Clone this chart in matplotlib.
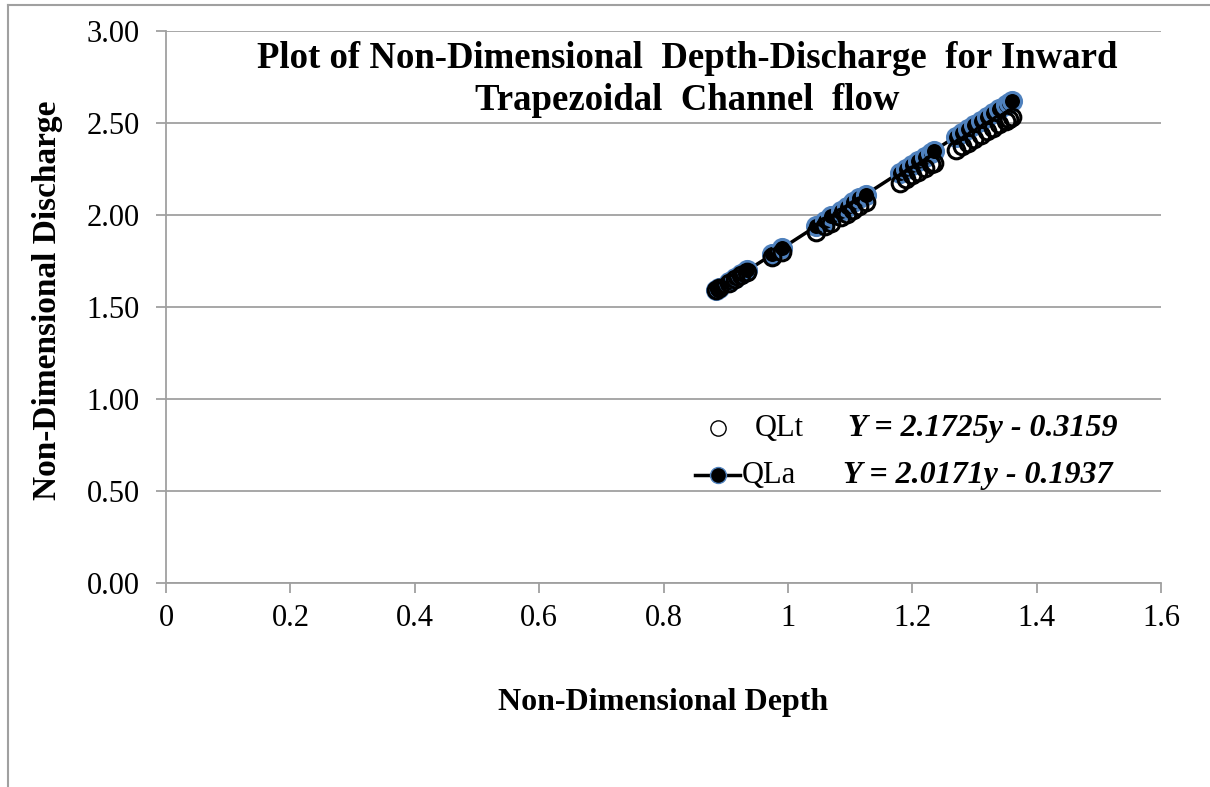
import matplotlib
matplotlib.use('Agg')
import matplotlib.pyplot as plt
from matplotlib.lines import Line2D

plt.rcParams['font.family'] = ['Liberation Serif', 'DejaVu Serif']

# non-dimensional depth
depth = [0.885, 0.89, 0.905, 0.915, 0.925, 0.935,
         0.975, 0.99,
         1.045, 1.06, 1.07, 1.085, 1.095, 1.105, 1.115, 1.125,
         1.18, 1.19, 1.20, 1.21, 1.22, 1.23, 1.235,
         1.27, 1.28, 1.29, 1.30, 1.31, 1.32, 1.33, 1.34, 1.35, 1.355, 1.36]

# QLt : open circles
qlt = [1.592, 1.602, 1.632, 1.652, 1.672, 1.691,
       1.771, 1.800,
       1.909, 1.939, 1.959, 1.988, 2.008, 2.028, 2.048, 2.068,
       2.176, 2.196, 2.216, 2.236, 2.256, 2.275, 2.285,
       2.355, 2.374, 2.394, 2.414, 2.434, 2.454, 2.473, 2.493, 2.513, 2.523, 2.533]

# QLa : filled circles with line
qla = [1.590, 1.601, 1.634, 1.656, 1.677, 1.699,
       1.786, 1.818,
       1.938, 1.970, 1.992, 2.024, 2.046, 2.068, 2.090, 2.111,
       2.231, 2.252, 2.274, 2.296, 2.317, 2.339, 2.350,
       2.426, 2.448, 2.469, 2.491, 2.513, 2.534, 2.556, 2.578, 2.600, 2.610, 2.621]

eq_qlt = 'Y = 2.1725y - 0.3159'
eq_qla = 'Y = 2.0171y - 0.1937'

xticks = [0, 0.2, 0.4, 0.6, 0.8, 1, 1.2, 1.4, 1.6]
xticklabels = ['0', '0.2', '0.4', '0.6', '0.8', '1', '1.2', '1.4', '1.6']
yticks = [0.0, 0.5, 1.0, 1.5, 2.0, 2.5, 3.0]

grey = '#a0a0a0'
blue = '#4f81bd'

fig = plt.figure(figsize=(12.1, 7.87), dpi=100)
ax = fig.add_axes([0.1372, 0.2592, 0.8223, 0.7014])

# outer chart frame (only left and top visible)
fig.add_artist(Line2D([0.0066, 0.0066], [0, 0.9936], color=grey, lw=1.5, transform=fig.transFigure))
fig.add_artist(Line2D([0.0066, 1.0], [0.9936, 0.9936], color=grey, lw=1.5, transform=fig.transFigure))

ax.plot(depth, qla, color='black', lw=2.5, marker='o', markersize=13,
        markerfacecolor='black', markeredgecolor=blue, markeredgewidth=2.2, zorder=3)
ax.plot(depth, qlt, linestyle='none', marker='o', markersize=12,
        markerfacecolor='none', markeredgecolor='black', markeredgewidth=2.2, zorder=4)

ax.set_xlim(0, 1.6)
ax.set_ylim(0, 3.0)
ax.set_xticks(xticks)
ax.set_xticklabels(xticklabels)
ax.set_yticks(yticks)
ax.set_yticklabels([f'{v:.2f}' for v in yticks])

ax.grid(axis='y', color=grey, lw=1.3)
ax.set_axisbelow(True)
for s in ['top', 'right']:
    ax.spines[s].set_visible(False)
for s in ['left', 'bottom']:
    ax.spines[s].set_color(grey)
    ax.spines[s].set_linewidth(1.3)
ax.tick_params(axis='both', direction='out', length=7, width=1.3, color=grey,
               labelsize=22, labelcolor='black')
ax.tick_params(axis='y', pad=12)
ax.tick_params(axis='x', pad=8)

ax.set_xlabel('Non-Dimensional Depth', fontsize=23, fontweight='bold', labelpad=40)
ax.set_ylabel('Non-Dimensional Discharge', fontsize=24, fontweight='bold', labelpad=17)
ax.yaxis.label.set_y(0.513)

ax.text(0.524, 0.912, 'Plot of Non-Dimensional  Depth-Discharge  for Inward\nTrapezoidal  Channel  flow',
        transform=ax.transAxes, ha='center', va='center', fontsize=26.5,
        fontweight='bold', linespacing=1.28)

# legend
ax.plot([0.887], [0.842], linestyle='none', marker='o', markersize=11,
        markerfacecolor='none', markeredgecolor='black', markeredgewidth=1, clip_on=False)
ax.plot([0.85, 0.923], [0.587, 0.587], color='black', lw=2.5, marker='none', clip_on=False)
ax.plot([0.887], [0.587], marker='o', markersize=11.5, markerfacecolor='black',
        markeredgecolor=blue, markeredgewidth=1, clip_on=False)
ax.text(0.947, 0.842, 'QLt', fontsize=22, va='center')
ax.text(0.926, 0.587, 'QLa', fontsize=22, va='center')
ax.text(1.096, 0.842, eq_qlt, fontsize=23, va='center', fontweight='bold', style='italic')
ax.text(1.088, 0.587, eq_qla, fontsize=23, va='center', fontweight='bold', style='italic')

fig.savefig('out.png', dpi=100)
